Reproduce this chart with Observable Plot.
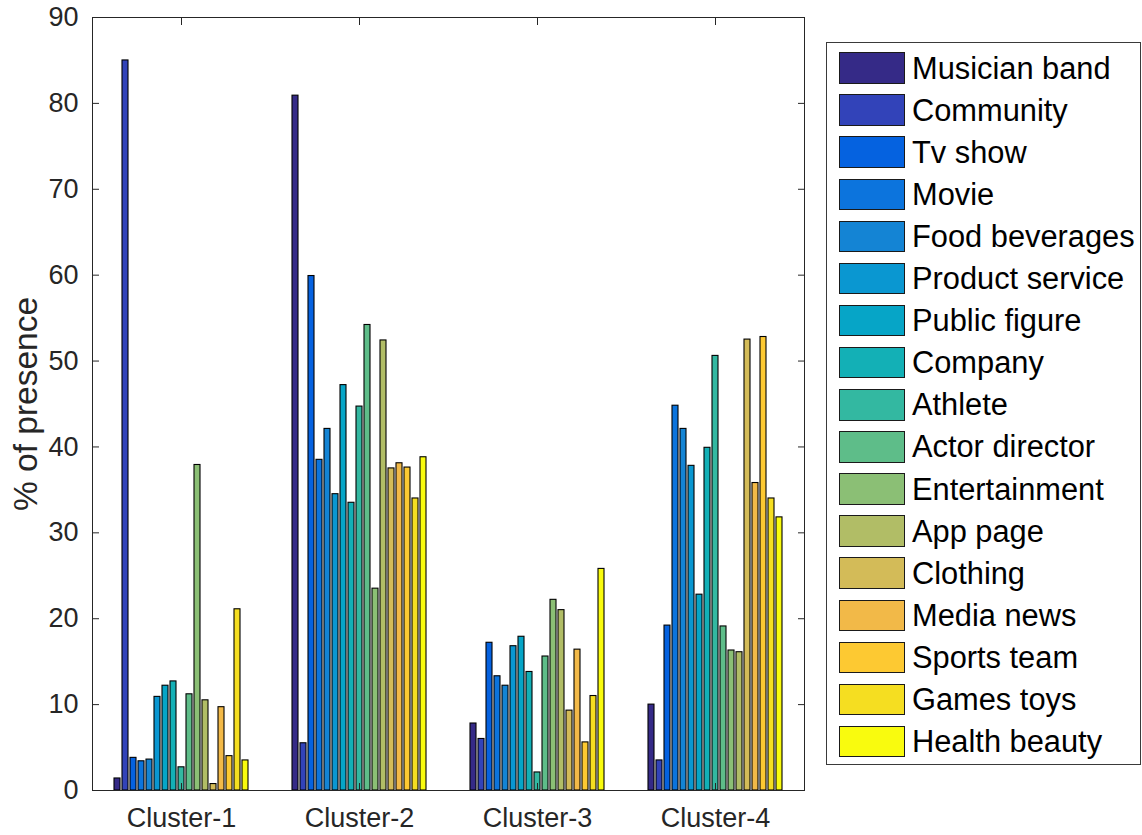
<!DOCTYPE html>
<html>
<head>
<meta charset="utf-8">
<script src="https://cdn.jsdelivr.net/npm/d3@7"></script>
<script src="https://cdn.jsdelivr.net/npm/@observablehq/plot@0.6"></script>
<style>
  html, body { margin: 0; padding: 0; background: #fff; }
  #wrap { position: relative; width: 1142px; height: 835px; font-family: "Liberation Sans", Arial, Helvetica, sans-serif; color: #262626; }
  #wrap svg { position: absolute; left: 0; top: 0; }
  #legend { position: absolute; left: 826px; top: 42px; width: 315px; height: 723px; box-sizing: border-box;
            border: 1px solid #3a3a3a; background: #fff; padding-top: 4px; }
  .row { height: 42.1px; display: flex; align-items: center; }
  .sw { width: 64px; height: 29.5px; border: 1px solid #1a1a1a; margin-left: 12px; margin-right: 7px; flex: none; }
  .lbl { font-size: 30.8px; line-height: 1; color: #000; white-space: nowrap; position: relative; top: 1px; }
</style>
</head>
<body>
<div id="wrap"><div id="legend"></div></div>
<script>
const clusters = ["Cluster-1", "Cluster-2", "Cluster-3", "Cluster-4"];
const categories = ["Musician band", "Community", "Tv show", "Movie", "Food beverages", "Product service",
  "Public figure", "Company", "Athlete", "Actor director", "Entertainment", "App page", "Clothing",
  "Media news", "Sports team", "Games toys", "Health beauty"];
const cluster1 = [1.4, 85.0, 3.8, 3.4, 3.6, 10.9, 12.2, 12.7, 2.7, 11.2, 37.9, 10.5, 0.75, 9.7, 4.0, 21.1, 3.5];
const cluster2 = [80.9, 5.5, 59.9, 38.5, 42.1, 34.5, 47.2, 33.5, 44.7, 54.2, 23.5, 52.4, 37.5, 38.1, 37.6, 34.0, 38.8];
const cluster3 = [7.8, 6.0, 17.2, 13.3, 12.2, 16.8, 17.9, 13.8, 2.1, 15.6, 22.2, 21.0, 9.3, 16.4, 5.6, 11.0, 25.8];
const cluster4 = [10.0, 3.5, 19.2, 44.8, 42.1, 37.8, 22.8, 39.9, 50.6, 19.1, 16.3, 16.1, 52.5, 35.8, 52.8, 34.0, 31.8];
const yTicks = [0, 10, 20, 30, 40, 50, 60, 70, 80, 90];
const yLabel = "% of presence";

// parula palette (17 levels)
const colors = ["#352a87", "#3243b9", "#0562e0", "#0c74dd", "#1484d4", "#0a97d1", "#06a5c7", "#13b0b6",
  "#33b8a1", "#5ebd89", "#8bbf75", "#b1bd66", "#d3bb58", "#f2b948", "#fdc932", "#f5de21", "#f9fb0e"];

const seriesByCluster = [cluster1, cluster2, cluster3, cluster4];
const data = [];
clusters.forEach((c, ci) => categories.forEach((cat, k) => data.push({cluster: c, category: cat, value: seriesByCluster[ci][k]})));

const ink = "#262626";
const font = "Liberation Sans, Arial, Helvetica, sans-serif";

const chart = Plot.plot({
  width: 1142,
  height: 835,
  marginLeft: 92,
  marginRight: 338,
  marginTop: 17,
  marginBottom: 45,
  style: {fontFamily: font, fontSize: "27px", color: ink, background: "transparent", overflow: "visible"},
  fx: {domain: clusters, padding: 0, label: null},
  x: {domain: categories, paddingInner: 0.2, paddingOuter: 2.225, axis: null},
  y: {domain: [0, 90], label: null},
  color: {domain: categories, range: colors},
  marks: [
    Plot.barY(data, {fx: "cluster", x: "category", y: "value", fill: "category", stroke: "#000", strokeWidth: 1.1}),
    Plot.frame({facet: "super", stroke: ink, strokeWidth: 1}),
    Plot.axisY(yTicks, {anchor: "left", tickSize: -7, tickFormat: () => "", label: null, stroke: ink}),
    Plot.axisY(yTicks, {anchor: "right", tickSize: -7, tickFormat: () => "", label: null, stroke: ink}),
    Plot.axisY(yTicks, {anchor: "left", tickSize: 0, tickPadding: 14, label: null, fontSize: 27, fill: ink}),
    Plot.axisFx({anchor: "bottom", tickSize: -7, tickFormat: () => "", label: null, stroke: ink}),
    Plot.axisFx({anchor: "top", tickSize: -7, tickFormat: () => "", label: null, stroke: ink}),
    Plot.axisFx({anchor: "bottom", tickSize: 0, tickPadding: 17, label: null, fontSize: 27, fill: ink}),
    Plot.text([yLabel], {facet: "super", frameAnchor: "left", textAnchor: "middle", rotate: -90, dx: -66, fontSize: 33.5, fill: ink, text: d => d})
  ]
});
document.getElementById("wrap").prepend(chart);

// Legend
const legend = d3.select("#legend");
const rows = legend.selectAll(".row").data(categories).join("div").attr("class", "row");
rows.append("div").attr("class", "sw").style("background", (d, i) => colors[i]);
rows.append("div").attr("class", "lbl").text(d => d);
</script>
</body>
</html>
